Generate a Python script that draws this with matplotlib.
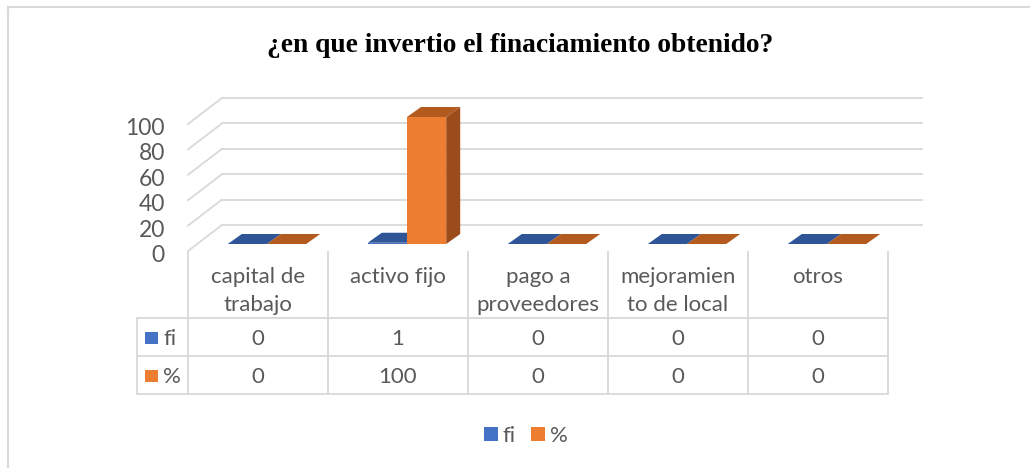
import matplotlib
matplotlib.use("Agg")
import matplotlib.pyplot as plt
from matplotlib.patches import Polygon, Rectangle
from matplotlib.lines import Line2D
import matplotlib.transforms as mtransforms

# ---------------- data ----------------
categories = ["capital de\ntrabajo", "activo fijo", "pago a\nproveedores",
              "mejoramien\nto de local", "otros"]
fi = [0, 1, 0, 0, 0]
pct = [0, 100, 0, 0, 0]
series_names = ["fi", "%"]
yticks = [0, 20, 40, 60, 80, 100]
title = "¿en que invertio el finaciamiento obtenido?"

# ---------------- style ----------------
front_colors = ["#4472C4", "#ED7D31"]
top_colors = ["#2F5597", "#B35A1F"]
side_colors = ["#2B4E8C", "#9C4C1A"]
grid_color = "#D9D9D9"
text_color = "#595959"
FONT = "Lato"

W, H = 1030, 468
fig = plt.figure(figsize=(W / 100, H / 100), dpi=100)
fig.patch.set_facecolor("white")


def fx(px):
    return px / W


def fy(py):
    return 1 - py / H


def off(dx_px, dy_px):
    return mtransforms.ScaledTranslation(dx_px / 100, dy_px / 100, fig.dpi_scale_trans)


# chart border (top & left visible)
fig.add_artist(Line2D([fx(8), fx(8)], [fy(7), 0], transform=fig.transFigure, color=grid_color, lw=1.5))
fig.add_artist(Line2D([fx(8), 1], [fy(7), fy(7)], transform=fig.transFigure, color=grid_color, lw=1.5))

# front plane axes: category index vs value
ax = fig.add_axes([fx(188), fy(251), 700 / W, 127 / H])
n = len(categories)
ax.set_xlim(-0.5, n - 0.5)
ax.set_ylim(0, 100)
ax.axis("off")

# pixel -> data conversion
bb = ax.get_position()
px_x = bb.width * W / (n)           # pixels per category unit
px_y = bb.height * H / 100.0        # pixels per value unit


def ddx(p):
    return p / px_x


def ddy(p):
    return p / px_y


# back wall depth
BX, BY = 34, 26
xl, xr = -0.5, n - 0.5
for v in yticks:
    ax.plot([xl, xl + ddx(BX)], [v, v + ddy(BY)], color=grid_color, lw=1.3, clip_on=False, zorder=1)
    ax.plot([xl + ddx(BX), xr + ddx(BX)], [v + ddy(BY), v + ddy(BY)], color=grid_color, lw=1.3,
            clip_on=False, zorder=1)
    ax.text(xl, v, str(v), transform=ax.transData + off(-23, -11), ha="right", va="baseline",
            fontsize=16.5, color=text_color, family=FONT)

# bars
bw = 0.28
FX0, FY0 = 9, 7     # front face shift into depth
DX, DY = 14, 10     # bar depth
series = [fi, pct]
for s, vals in enumerate(series):
    for i, v in enumerate(vals):
        x0 = i - bw + s * bw + ddx(FX0)
        x1 = x0 + bw
        y0 = ddy(FY0)
        y1 = y0 + v
        if v > 0:
            ax.add_patch(Polygon([(x1, y0), (x1 + ddx(DX), y0 + ddy(DY)),
                                  (x1 + ddx(DX), y1 + ddy(DY)), (x1, y1)],
                                 closed=True, facecolor=side_colors[s], edgecolor="none",
                                 clip_on=False, zorder=3 + s))
            ax.add_patch(Rectangle((x0, y0), bw, v, facecolor=front_colors[s], edgecolor="none",
                                   clip_on=False, zorder=3 + s))
        ax.add_patch(Polygon([(x0, y1), (x1, y1), (x1 + ddx(DX), y1 + ddy(DY)),
                              (x0 + ddx(DX), y1 + ddy(DY))],
                             closed=True, facecolor=top_colors[s], edgecolor="none",
                             clip_on=False, zorder=3 + s))

# ---------------- data table ----------------
tb = mtransforms.blended_transform_factory(ax.transData, fig.transFigure)
tbl_top, row1, row2, row3 = 252, 318, 356, 394
label_left = 137
lw_t = 1.3
for yy in [row1, row2, row3]:
    fig.add_artist(Line2D([fx(label_left), fx(188 + 700)], [fy(yy), fy(yy)],
                          transform=fig.transFigure, color=grid_color, lw=lw_t))
for k in range(n + 1):
    xk = -0.5 + k
    ax.add_artist(Line2D([xk, xk], [fy(tbl_top), fy(row3)], transform=tb, color=grid_color,
                         lw=lw_t, clip_on=False))
fig.add_artist(Line2D([fx(label_left), fx(label_left)], [fy(row1), fy(row3)],
                      transform=fig.transFigure, color=grid_color, lw=lw_t))

for i, cat in enumerate(categories):
    for k, line in enumerate(cat.split("\n")):
        ax.text(i, fy(283 + 28 * k), line, transform=tb, ha="center", va="baseline",
                fontsize=16, color=text_color, family=FONT, clip_on=False)
    ax.text(i, fy(345), str(fi[i]), transform=tb, ha="center", va="baseline",
            fontsize=16, color=text_color, family=FONT)
    ax.text(i, fy(383), str(pct[i]), transform=tb, ha="center", va="baseline",
            fontsize=16, color=text_color, family=FONT)

for s, (name, ybase) in enumerate(zip(series_names, [345, 383])):
    fig.add_artist(Rectangle((fx(145), fy(ybase - 1)), 13 / W, 12 / H, transform=fig.transFigure,
                             facecolor=front_colors[s], edgecolor="none"))
    fig.text(fx(163), fy(ybase), name, ha="left", va="baseline", fontsize=16,
             color=text_color, family=FONT)

# ---------------- legend ----------------
handles = [Rectangle((0, 0), 1, 1, facecolor=front_colors[s], edgecolor="none") for s in range(2)]
fig.legend(handles, series_names, loc="center", bbox_to_anchor=(fx(526), fy(436)), ncol=2,
           frameon=False, handlelength=0.63, handleheight=0.63, handletextpad=0.2,
           columnspacing=0.7, prop={"family": FONT, "size": 16}, labelcolor=text_color,
           borderpad=0, borderaxespad=0)

# ---------------- title ----------------
fig.text(fx(520), fy(45), title, ha="center", va="center", fontsize=19.8, fontweight="bold",
         family="Liberation Serif", color="black")

fig.savefig("out.png", dpi=100)
